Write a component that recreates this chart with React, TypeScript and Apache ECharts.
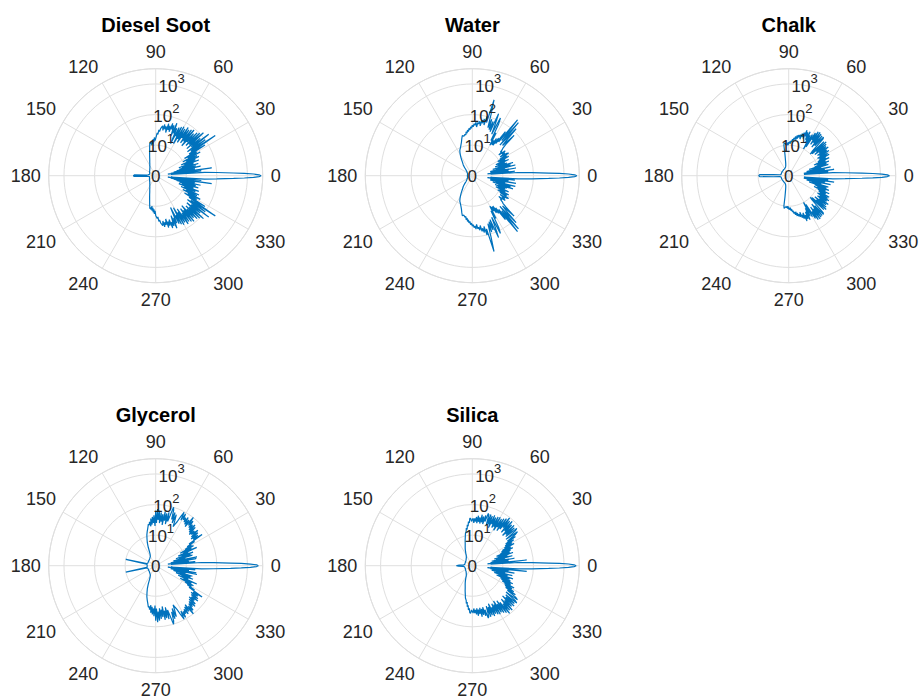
import React, { useEffect, useRef } from 'react';
import * as echarts from 'echarts';

// Scattering angle grid (degrees, 0..180); lower half is the mirror (360 - angle)
const ANGLES = [
  0, 0.5, 1, 1.5, 2, 3, 4,
  5, 6, 7, 8, 9, 10, 11, 12, 13, 14,
  15, 16, 17, 18, 19, 20, 21, 22, 23, 24,
  25, 26, 27, 28, 29, 30, 31, 32, 33, 34,
  35, 36, 37, 38, 39, 40, 41, 42, 43, 44,
  45, 46, 47, 48, 49, 50, 51, 52, 53, 54,
  55, 56, 57, 58, 59, 60, 61, 62, 63, 64,
  65, 66, 67, 68, 69, 70, 71, 72, 73, 74,
  75, 76, 77, 78, 79, 80, 81, 82, 83, 84,
  85, 86, 87, 88, 89, 90, 91, 92, 93, 94,
  95, 96, 97, 98, 99, 100,
  102, 104, 106, 108, 110, 112, 114, 116, 118, 120,
  122, 124, 126, 128, 130, 132, 134, 136, 138, 140,
  142, 144, 146, 148, 150, 152, 154, 156, 158, 160,
  162, 164, 166, 168, 170, 172, 174, 176, 178, 180,
];

// log10 intensity
const DIESEL_SOOT = [
  3.45, 3.38, 3.2, 2.9, 2.55, 2.0, 1.6,
  0.5, 1.5, 0.4, 1.85, 0.5, 1.3, 0.6, 1.5, 0.7, 1.35,
  0.8, 1.45, 0.9, 1.3, 0.8, 1.5, 1.0, 1.4, 0.9, 1.55,
  1.1, 1.5, 1.0, 1.65, 1.2, 1.55, 1.1, 1.9, 1.3, 2.35,
  1.4, 2.0, 1.3, 2.2, 1.5, 1.9, 1.35, 2.1, 1.5, 2.0,
  1.4, 1.95, 1.5, 1.85, 1.3, 1.95, 1.45, 1.9, 1.35, 1.85,
  1.5, 1.9, 1.3, 1.8, 1.4, 1.85, 1.2, 1.8, 1.45, 1.75,
  1.15, 1.7, 1.5, 1.85, 1.4, 1.75, 1.6, 1.8, 1.5, 1.7,
  1.55, 1.75, 1.45, 1.65, 1.55, 1.7, 1.5, 1.65, 1.6, 1.55,
  1.45, 1.5, 1.35, 1.4, 1.3, 1.3, 1.15, 1.25, 1.1, 1.2,
  1.05, 1.15, 1.0, 1.12, 1.05, 1.1,
  0.95, 0.82, 0.72, 0.64, 0.57, 0.52, 0.48, 0.44, 0.41, 0.39,
  0.36, 0.34, 0.33, 0.31, 0.3, 0.29, 0.28, 0.27, 0.26, 0.26,
  0.25, 0.25, 0.24, 0.24, 0.23, 0.23, 0.22, 0.22, 0.22, 0.21,
  0.21, 0.21, 0.2, 0.2, 0.2, 0.2, 0.25, 0.3, 0.7, 0.73,
];
const WATER = [
  3.42, 3.35, 3.15, 2.85, 2.5, 1.95, 1.5,
  0.6, 1.4, 0.5, 1.2, 0.6, 1.45, 0.7, 1.1, 0.6, 1.45,
  0.8, 1.3, 0.7, 1.4, 0.9, 1.2, 0.8, 1.15, 0.9, 1.3,
  0.85, 1.2, 1.0, 1.35, 0.95, 1.3, 1.05, 1.4, 1.35, 1.1,
  1.3, 1.2, 1.35, 1.1, 1.25, 1.2, 1.3, 1.35, 1.5, 1.9,
  1.4, 1.6, 2.1, 1.35, 2.3, 1.5, 2.35, 1.4, 1.8, 1.3,
  1.5, 1.2, 1.45, 1.2, 1.35, 1.15, 1.6, 1.3, 1.9, 2.1,
  1.5, 1.85, 2.2, 1.55, 1.9, 1.6, 1.95, 1.65, 2.1, 2.58,
  1.8, 2.0, 1.7, 1.9, 1.75, 1.85, 1.65, 1.8, 1.7, 1.75,
  1.6, 1.75, 1.65, 1.7, 1.6, 1.65, 1.55, 1.6, 1.5, 1.55,
  1.45, 1.5, 1.4, 1.45, 1.35, 1.38,
  1.32, 1.35, 1.25, 1.15, 1.08, 1.02, 0.97, 0.93, 0.86, 0.78,
  0.7, 0.62, 0.55, 0.5, 0.46, 0.4, 0.35, 0.3, 0.27, 0.25,
  0.23, 0.22, 0.21, 0.2, 0.19, 0.18, 0.18, 0.17, 0.17, 0.17,
  0.16, 0.16, 0.16, 0.16, 0.16, 0.16, 0.16, 0.16, 0.16, 0.16,
];
const CHALK = [
  3.3, 3.23, 3.05, 2.75, 2.4, 1.85, 1.45,
  0.5, 1.3, 0.6, 1.5, 0.5, 1.2, 0.7, 1.4, 0.6, 1.1,
  0.8, 1.35, 0.7, 1.3, 0.9, 1.4, 1.0, 1.3, 0.9, 1.45,
  1.05, 1.35, 1.1, 1.5, 1.15, 1.47, 1.1, 1.55, 1.2, 1.5,
  1.15, 1.6, 1.25, 1.55, 1.1, 1.6, 1.2, 1.65, 1.05, 1.6,
  1.0, 1.1, 1.65, 1.7, 1.3, 1.7, 1.2, 1.72, 1.35, 1.75,
  1.25, 1.73, 1.4, 1.65, 1.1, 1.55, 1.0, 1.5, 1.2, 1.6,
  1.3, 1.55, 1.4, 1.6, 1.3, 1.5, 1.35, 1.45, 1.25, 1.4,
  1.3, 1.37, 1.25, 1.35, 1.2, 1.3, 1.2, 1.25, 1.15, 1.2,
  1.1, 1.15, 1.05, 1.12, 1.05, 1.1, 1.0, 1.08, 1.0, 1.05,
  1.02, 1.06, 1.05, 1.08, 1.0, 0.7,
  0.5, 0.4, 0.35, 0.32, 0.3, 0.29, 0.28, 0.28, 0.27, 0.27,
  0.27, 0.26, 0.26, 0.26, 0.26, 0.25, 0.25, 0.25, 0.25, 0.25,
  0.25, 0.25, 0.25, 0.25, 0.25, 0.25, 0.25, 0.25, 0.25, 0.25,
  0.25, 0.25, 0.25, 0.25, 0.25, 0.26, 0.3, 0.5, 0.95, 0.98,
];
const GLYCEROL = [
  3.36, 3.3, 3.1, 2.8, 2.45, 1.9, 1.5,
  0.5, 1.3, 0.4, 1.1, 0.6, 1.35, 0.5, 1.38, 0.7, 1.0,
  0.6, 1.25, 0.8, 1.2, 0.7, 1.3, 0.9, 1.15, 0.8, 1.47,
  1.0, 1.3, 0.9, 1.4, 1.1, 1.35, 1.2, 1.5, 1.3, 1.83,
  1.5, 1.7, 1.45, 1.75, 1.5, 1.8, 1.55, 1.7, 1.5, 1.8,
  1.55, 1.85, 1.6, 1.8, 1.65, 1.9, 1.7, 2.0, 1.6, 1.85,
  1.65, 1.9, 1.7, 1.85, 1.75, 1.95, 1.7, 1.98, 1.8, 1.6,
  1.5, 1.4, 1.6, 1.8, 1.5, 1.85, 1.6, 1.9, 2.0, 1.7,
  1.5, 1.8, 1.4, 1.75, 1.5, 1.8, 1.35, 1.7, 1.45, 1.75,
  1.4, 1.8, 1.5, 1.85, 1.4, 1.8, 1.3, 1.65, 1.4, 1.6,
  1.35, 1.55, 1.3, 1.45, 1.35, 1.38,
  1.25, 1.15, 1.05, 0.92, 0.8, 0.65, 0.5, 0.42, 0.38, 0.35,
  0.34, 0.33, 0.32, 0.31, 0.3, 0.3, 0.29, 0.29, 0.28, 0.28,
  0.28, 0.28, 0.27, 0.27, 0.27, 0.27, 0.27, 0.27, 0.27, 0.27,
  0.27, 0.28, 0.3, 1.0, 0.3, 0.28, 0.28, 0.28, 0.28, 0.28,
];
const SILICA = [
  3.4, 3.33, 3.15, 2.85, 2.5, 1.95, 1.5,
  0.6, 1.79, 0.5, 1.2, 0.6, 1.4, 0.7, 1.1, 0.65, 1.35,
  0.8, 1.2, 0.75, 1.4, 0.9, 1.3, 0.85, 1.35, 1.0, 1.45,
  1.05, 1.4, 1.1, 1.55, 1.2, 1.5, 1.25, 1.6, 1.3, 1.7,
  1.4, 1.75, 1.85, 1.4, 1.8, 1.9, 1.45, 1.85, 1.5, 1.9,
  1.4, 1.85, 1.55, 1.95, 1.45, 1.9, 1.6, 1.98, 1.5, 1.9,
  1.4, 1.85, 1.5, 1.8, 1.35, 1.83, 1.45, 1.8, 1.4, 1.75,
  1.5, 1.8, 1.35, 1.75, 1.45, 1.78, 1.4, 1.75, 1.79, 1.5,
  1.7, 1.4, 1.65, 1.45, 1.7, 1.4, 1.6, 1.45, 1.65, 1.4,
  1.6, 1.45, 1.55, 1.4, 1.55, 1.5, 1.45, 1.55, 1.55, 1.4,
  1.45, 1.3, 1.35, 1.2, 1.25, 1.15,
  1.08, 0.95, 0.85, 0.75, 0.68, 0.62, 0.56, 0.5, 0.45, 0.4,
  0.37, 0.35, 0.33, 0.32, 0.31, 0.3, 0.29, 0.28, 0.28, 0.27,
  0.27, 0.26, 0.26, 0.26, 0.25, 0.25, 0.25, 0.25, 0.25, 0.25,
  0.25, 0.25, 0.25, 0.25, 0.25, 0.26, 0.28, 0.3, 0.45, 0.52,
];

const TITLES = ['Diesel Soot', 'Water', 'Chalk', 'Glycerol', 'Silica'];
const SERIES_VALUES = [DIESEL_SOOT, WATER, CHALK, GLYCEROL, SILICA];
const RADIAL_TICKS = [0, 1, 2, 3]; // shown as 0, 10^1, 10^2, 10^3
const RADIAL_MAX = 3.5;
const RADIAL_LABEL_ANGLE = 80;
const ANGLE_STEP = 30;

const CENTERS = [
  [155.7, 175.7],
  [472.3, 175.7],
  [788.7, 175.7],
  [155.7, 565.7],
  [472.3, 565.7],
];
const RADIUS = 107;
const FONT = '"Liberation Sans", Arial, Helvetica, sans-serif';
const GRID = '#dfdfdf';
const TXT = '#262626';
const LINE = '#0072BD';

function closedCurve(vals: number[]) {
  const n = Math.min(vals.length, ANGLES.length);
  const pts: number[][] = [];
  for (let i = 0; i < n; i++) pts.push([vals[i], ANGLES[i]]);
  for (let i = n - 2; i >= 0; i--) pts.push([vals[i], 360 - ANGLES[i]]);
  return pts;
}

export default function App() {
  const ref = useRef<HTMLDivElement>(null);
  useEffect(() => {
    if (!ref.current) return;
    const chart = echarts.init(ref.current, null, { renderer: 'svg' });
    const polar = CENTERS.map((c) => ({ center: c, radius: RADIUS }));
    const angleAxis = CENTERS.map((_, i) => ({
      polarIndex: i,
      type: 'value',
      min: 0,
      max: 360,
      interval: ANGLE_STEP,
      startAngle: 0,
      clockwise: false,
      axisLine: { show: true, lineStyle: { color: GRID, width: 1 } },
      axisTick: { show: false },
      axisLabel: {
        show: true,
        margin: 8,
        color: TXT,
        fontSize: 18,
        fontFamily: FONT,
        formatter: (v: number) => (v === 360 ? '' : String(v)),
      },
      splitLine: { show: true, lineStyle: { color: GRID, width: 1 } },
    }));
    const radiusAxis = CENTERS.map((_, i) => ({
      polarIndex: i,
      type: 'value',
      min: 0,
      max: RADIAL_MAX,
      interval: 1,
      axisLine: { show: false },
      axisTick: { show: false },
      axisLabel: { show: false },
      splitLine: { show: true, lineStyle: { color: GRID, width: 1 } },
    }));
    const series: any[] = [];
    SERIES_VALUES.forEach((vals, i) => {
      series.push({
        type: 'line',
        coordinateSystem: 'polar',
        polarIndex: i,
        data: closedCurve(vals),
        showSymbol: false,
        symbol: 'none',
        lineStyle: { color: LINE, width: 1.2 },
        silent: true,
        z: 2,
      });
      series.push({
        type: 'scatter',
        coordinateSystem: 'polar',
        polarIndex: i,
        data: RADIAL_TICKS.map((t) => [t, RADIAL_LABEL_ANGLE]),
        symbolSize: 1,
        itemStyle: { color: 'rgba(0,0,0,0)' },
        silent: true,
        z: 5,
        label: {
          show: true,
          position: 'inside',
          offset: [0, 1],
          color: TXT,
          fontSize: 17,
          fontFamily: FONT,
          textBorderWidth: 0,
          textBorderColor: 'transparent',
          opacity: 1,
          formatter: (p: any) => (p.value[0] === 0 ? '{b|0}' : '{b|10}{s|' + p.value[0] + '}'),
          rich: {
            b: { fontSize: 17, lineHeight: 17, color: TXT, fontFamily: FONT, verticalAlign: 'bottom', textBorderWidth: 0 },
            s: { fontSize: 13, lineHeight: 13, color: TXT, fontFamily: FONT, verticalAlign: 'bottom', padding: [0, 0, 10, 0], textBorderWidth: 0 },
          },
        },
      });
    });
    const graphic = TITLES.map((t, i) => ({
      type: 'text',
      x: CENTERS[i][0],
      y: i < 3 ? 25 : 415,
      silent: true,
      style: {
        text: t,
        fill: '#000',
        fontSize: 20,
        fontWeight: 'bold',
        fontFamily: FONT,
        align: 'center',
        verticalAlign: 'middle',
      },
    }));
    chart.setOption({
      animation: false,
      backgroundColor: '#fff',
      polar,
      angleAxis,
      radiusAxis,
      series,
      graphic,
    });
    return () => chart.dispose();
  }, []);
  return <div ref={ref} style={{ position: 'fixed', left: 0, top: 0, width: 921, height: 700 }} />;
}
